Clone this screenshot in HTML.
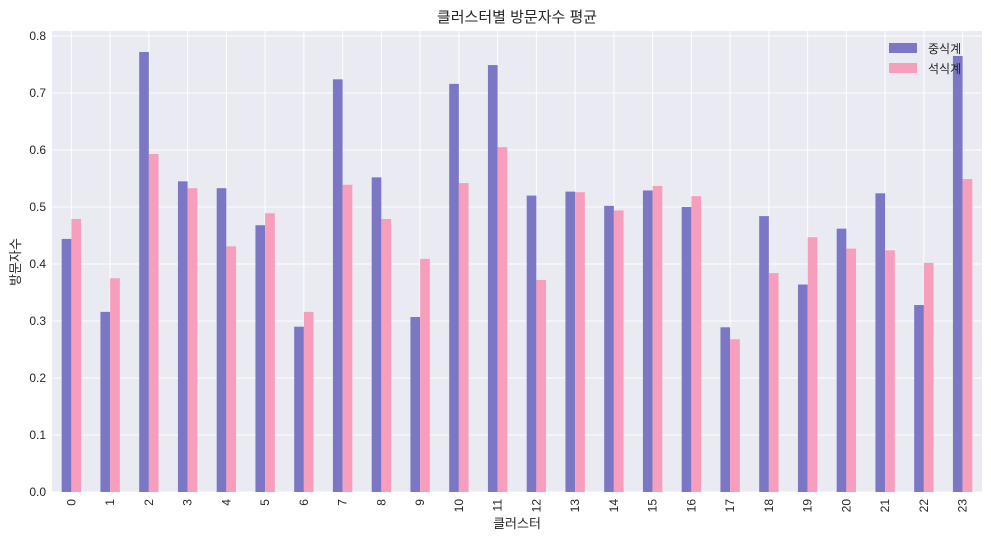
<!DOCTYPE html>
<html><head><meta charset="utf-8"><style>
body{margin:0;background:#fff;font-family:"Liberation Sans","Noto Sans CJK KR",sans-serif;}
svg text{font-family:"Liberation Sans","Noto Sans CJK KR",sans-serif;fill:#262626;}
</style></head><body>
<svg id="chart" width="991" height="542">
<rect x="52" y="31" width="930" height="461" fill="#eaeaf2"/>
<g id="grid"></g><g id="bars"></g><g id="axes"></g>
<text x="517" y="22" font-size="15" text-anchor="middle">클러스터별 방문자수 평균</text>
<text x="517" y="528" font-size="13" text-anchor="middle">클러스터</text>
<text x="20" y="262" font-size="13" text-anchor="middle" transform="rotate(-90 20 262)">방문자수</text>
<g>
<rect x="889" y="43" width="28" height="10" fill="#7b77c4"/>
<text x="928" y="53" font-size="12">중식계</text>
<rect x="889" y="63" width="28" height="10" fill="#f79ebd"/>
<text x="928" y="73" font-size="12">석식계</text>
</g>
</svg>
<script>
const categories=["0","1","2","3","4","5","6","7","8","9","10","11","12","13","14","15","16","17","18","19","20","21","22","23"];
const lunch=[0.444,0.316,0.772,0.545,0.533,0.468,0.290,0.724,0.552,0.307,0.716,0.749,0.520,0.527,0.502,0.529,0.500,0.289,0.484,0.364,0.462,0.524,0.328,0.765];
const dinner=[0.479,0.375,0.593,0.533,0.431,0.489,0.316,0.539,0.479,0.409,0.542,0.605,0.372,0.526,0.494,0.537,0.519,0.268,0.384,0.447,0.427,0.424,0.402,0.549];
const yTicks=[0,0.1,0.2,0.3,0.4,0.5,0.6,0.7,0.8];
const NS="http://www.w3.org/2000/svg";
const L=52,R=982,T=31,B=492;
const step=(R-L)/categories.length;
const x=i=>L+step*(i+0.5);
const y=v=>B-v*570;
const bw=step*0.25;
function mk(tag,attrs,parent){const e=document.createElementNS(NS,tag);for(const k in attrs)e.setAttribute(k,attrs[k]);document.getElementById(parent).appendChild(e);return e;}
yTicks.forEach(t=>{
 const g=mk('line',{x1:L,x2:R,y1:y(t),y2:y(t),stroke:'#fff','stroke-width':1},'grid');
 
 
 const tx=mk('text',{x:L-6,y:y(t)+4,'font-size':12,'text-anchor':'end'},'axes');
 tx.textContent=t.toFixed(1);
 
 
});
categories.forEach((c,i)=>{
 const g=mk('line',{x1:x(i),x2:x(i),y1:T,y2:B,stroke:'#fff','stroke-width':1},'grid');
 
 
 const b1=mk('rect',{x:x(i)-bw,y:y(lunch[i]),width:bw,height:B-y(lunch[i]),fill:'#7b77c4'},'bars');
 
 
 const b2=mk('rect',{x:x(i),y:y(dinner[i]),width:bw,height:B-y(dinner[i]),fill:'#f79ebd'},'bars');
 
 
 const tx=mk('text',{x:x(i)+4,y:B+7,'font-size':12,'text-anchor':'end',transform:`rotate(-90 ${x(i)+4} ${B+7})`},'axes');
 tx.textContent=c;
 
 
});
</script>
</body></html>
